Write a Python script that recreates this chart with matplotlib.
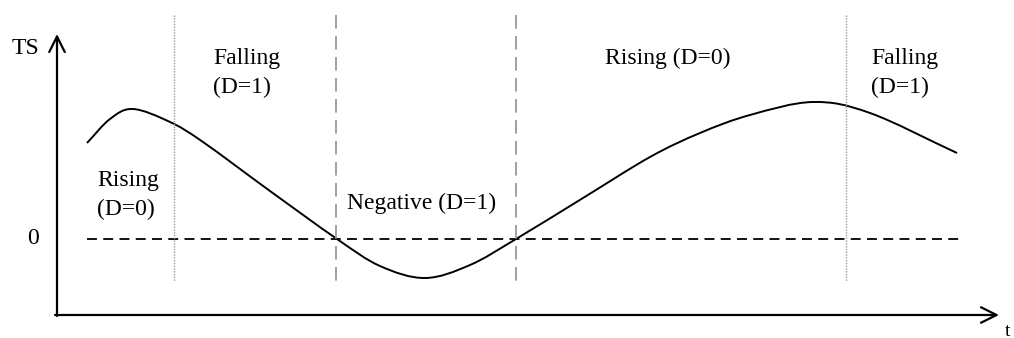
import numpy as np
import matplotlib
matplotlib.use("Agg")
import matplotlib.pyplot as plt
from matplotlib.path import Path
from matplotlib.patches import PathPatch

# schematic curve (t, TS)
t_pts = [87, 110, 133, 170, 203, 270, 337, 380, 425, 470, 516,
         583, 650, 700, 750, 813, 870, 957]
ts_pts = [96, 120, 130, 117, 97, 48, 0, -27, -39, -26, 0,
          41, 82, 106, 124, 137, 126, 86]

# regime boundaries
dotted_t = [174, 846]
dashed_t = [336, 516]

# region labels (t, TS, text)
label_t = [97, 213, 347, 605, 871]
label_ts = [44, 166, 36, 181, 166]
label_txt = ["Rising\n(D=0)", "Falling\n(D=1)", "Negative (D=1)", "Rising (D=0)", "Falling\n(D=1)"]

plt.rcParams['font.family'] = ['Liberation Serif', 'DejaVu Serif']


def smooth_path(xs, ys):
    pts = np.column_stack([xs, ys]).astype(float)
    # ghost points at both ends so the end tangents follow the curve
    pts = np.vstack([2 * pts[0] - pts[1], pts, 2 * pts[-1] - pts[-2]])
    verts = [pts[1]]
    codes = [Path.MOVETO]
    for i in range(1, len(pts) - 2):
        p0, p1, p2, p3 = pts[i - 1], pts[i], pts[i + 1], pts[i + 2]
        verts += [p1 + (p2 - p0) / 6, p2 - (p3 - p1) / 6, p2]
        codes += [Path.CURVE4] * 3
    return Path(verts, codes)


fig = plt.figure(figsize=(10.14, 3.38), dpi=100)
ax = fig.add_axes([0, 0, 1, 1])
ax.set_xlim(0, 1014)
ax.set_ylim(239 - 338, 239)
ax.axis('off')

# axes with arrows
ax.annotate('', xy=(999, -76), xytext=(55, -76),
            arrowprops=dict(arrowstyle='->', lw=1.6, color='black', mutation_scale=28,
                            shrinkA=0, shrinkB=0))
ax.annotate('', xy=(57, 205), xytext=(57, -77),
            arrowprops=dict(arrowstyle='->', lw=1.6, color='black', mutation_scale=28,
                            shrinkA=0, shrinkB=0))

# zero line
ax.plot([87, 962], [0, 0], color='black', lw=1.3, linestyle=(0, (5.5, 3.5)))

for x in dotted_t:
    ax.plot([x, x], [224, -42], color='#999999', lw=1.0, linestyle=(0, (1, 1)))
for x in dashed_t:
    ax.plot([x, x], [224, -42], color='#a0a0a0', lw=1.4, linestyle=(0, (7, 3.8)))

ax.add_patch(PathPatch(smooth_path(t_pts, ts_pts), facecolor='none', edgecolor='black', lw=1.4))

for x, y, s in zip(label_t, label_ts, label_txt):
    ax.text(x, y, s, fontsize=17, ha='left', va='center', linespacing=1.5)

ax.text(12, 191, 'TS', fontsize=17, ha='left', va='center')
ax.text(33, 0, '0', fontsize=17, ha='center', va='center')
ax.text(1005, -92, 't', fontsize=14, ha='left', va='center')

fig.savefig('out.png', dpi=100)
